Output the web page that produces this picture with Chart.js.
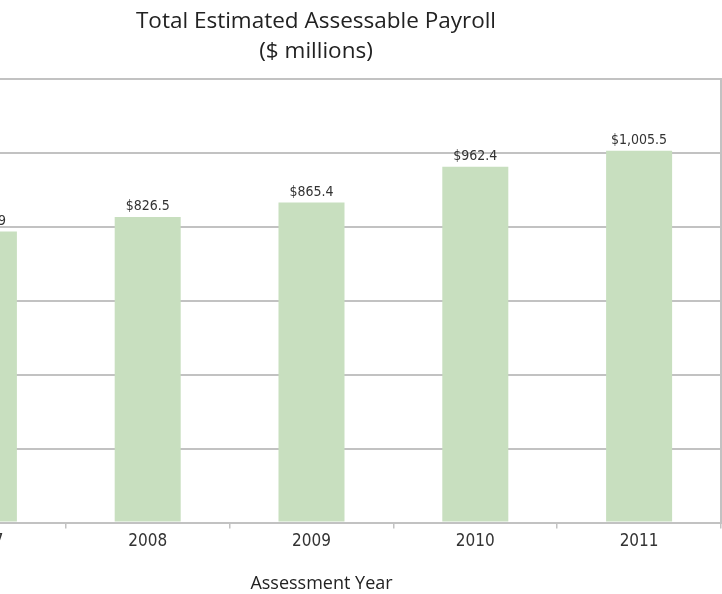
<!DOCTYPE html>
<html>
<head>
<meta charset="utf-8">
<title>Total Estimated Assessable Payroll</title>
<script src="https://cdn.jsdelivr.net/npm/chart.js@4.4.1/dist/chart.umd.min.js"></script>
<style>
  html, body { margin: 0; padding: 0; background: #fff; overflow: hidden; }
  body { width: 722px; height: 594px; position: relative; }
  #wrap { position: absolute; left: -100px; top: 0; width: 832px; height: 594px; }
</style>
</head>
<body>
<div id="wrap"><canvas id="payrollChart"></canvas></div>
<script>
// assessment years and payroll ($ millions)
var years = ['2007', '2008', '2009', '2010', '2011'];
var payroll = [786.9, 826.5, 865.4, 962.4, 1005.5];
var yTicks = [0, 200, 400, 600, 800, 1000, 1200];
var xTitle = 'Assessment Year';

var narrow = "'Liberation Sans Narrow', 'DejaVu Sans Condensed', sans-serif";
var sans = "'Open Sans', sans-serif";
var gridGray = '#c2c2c2';

function money(v) {
    return '$' + v.toLocaleString('en-US', { minimumFractionDigits: 1, maximumFractionDigits: 1 });
}

// value labels above each bar, plus the axis title under the year labels
var barLabels = {
    id: 'barLabels',
    afterDatasetsDraw: function (chart) {
        var ctx = chart.ctx;
        var meta = chart.getDatasetMeta(0);
        var a = chart.chartArea;
        ctx.save();
        ctx.font = '14px ' + narrow;
        ctx.fillStyle = '#333';
        ctx.textAlign = 'center';
        ctx.textBaseline = 'alphabetic';
        meta.data.forEach(function (bar, i) {
            ctx.fillText(money(payroll[i]), bar.x, bar.y - 7);
        });
        ctx.font = '18px ' + sans;
        ctx.fillStyle = '#222';
        ctx.textBaseline = 'middle';
        ctx.fillText(xTitle, (a.left + a.right) / 2 + 10, a.bottom + 61);
        ctx.restore();
    }
};

new Chart(document.getElementById('payrollChart'), {
    type: 'bar',
    data: {
        labels: years,
        datasets: [{
            label: 'Total Estimated Assessable Payroll',
            data: payroll,
            backgroundColor: '#c8dfbf',
            borderWidth: 0,
            categoryPercentage: 1,
            barPercentage: 0.403
        }]
    },
    options: {
        responsive: true,
        maintainAspectRatio: false,
        animation: false,
        layout: { padding: { left: 2, right: 2, top: 0, bottom: 39 } },
        plugins: {
            legend: { display: false },
            tooltip: { enabled: false },
            title: {
                display: true,
                text: ['Total Estimated Assessable Payroll', '($ millions)'],
                color: '#222',
                font: { family: sans, size: 22.5, weight: 'normal', lineHeight: 1.33 },
                padding: { top: 7, bottom: 12 }
            }
        },
        scales: {
            x: {
                offset: true,
                grid: {
                    offset: true,
                    drawOnChartArea: false,
                    drawTicks: true,
                    tickLength: 6,
                    color: gridGray,
                    lineWidth: 1.5
                },
                border: { display: true, color: gridGray, width: 2 },
                ticks: {
                    color: '#333',
                    padding: 3,
                    font: { family: narrow, size: 17 }
                }
            },
            y: {
                position: 'right',
                min: 0,
                max: 1200,
                afterBuildTicks: function (axis) {
                    axis.ticks = yTicks.map(function (v) { return { value: v }; });
                },
                afterFit: function (axis) {
                    axis.width = 9;
                },
                grid: {
                    color: gridGray,
                    lineWidth: 2,
                    drawTicks: false
                },
                // right-hand frame of the plot
                border: { display: true, color: gridGray, width: 2 },
                ticks: { display: false }
            }
        }
    },
    plugins: [barLabels]
});
</script>
</body>
</html>
